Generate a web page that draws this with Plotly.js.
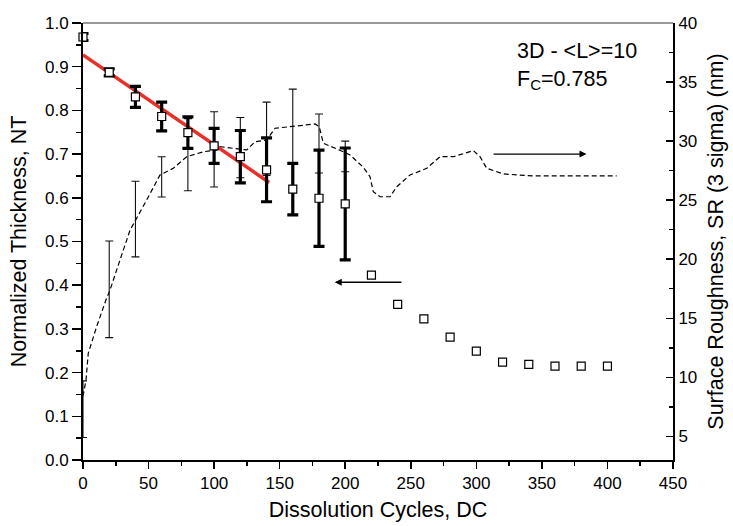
<!DOCTYPE html>
<html>
<head>
<meta charset="utf-8">
<script src="https://cdn.plot.ly/plotly-3.0.1.min.js"></script>
<style>html,body{margin:0;padding:0;background:#fff;}#chart{width:733px;height:526px;}</style>
</head>
<body>
<div id="chart"></div>
<script>
// Normalized thickness (left axis)
var ntX = [0, 20, 40, 60, 80, 100, 120, 140, 160, 180, 200];
var ntY = [0.968, 0.887, 0.831, 0.786, 0.749, 0.719, 0.694, 0.664, 0.620, 0.599, 0.586];
var ntErr = [0.008, 0.008, 0.024, 0.033, 0.036, 0.040, 0.060, 0.073, 0.059, 0.110, 0.128];
var ntTailX = [220, 240, 260, 280, 300, 320, 340, 360, 380, 400];
var ntTailY = [0.423, 0.356, 0.323, 0.281, 0.249, 0.224, 0.219, 0.215, 0.215, 0.215];
// linear fit (red)
var fitX = [0, 142];
var fitY = [0.927, 0.635];
// Surface roughness (right axis) error bars
var srBarX = [0, 20, 40, 60, 80, 100, 120, 140, 160, 180, 200];
var srBarY = [7.3, 17.45, 23.4, 26.97, 28.85, 29.3, 29.45, 30.2, 31.25, 29.8, 28.7];
var srBarErr = [2.4, 4.09, 3.2, 1.7, 3.05, 3.18, 2.55, 3.1, 3.15, 2.5, 1.3];
// Surface roughness curve (dashed)
var srCurveX = [0, 2.3, 4.0, 10.4, 17.5, 20.6, 28.2, 35.9, 48.6, 58.7, 68.9, 79.1, 91.8, 102, 104.5, 124.9, 131.2, 140.1, 146.5, 160.4, 177, 180.2, 183.3, 198.6, 203.7, 213.8, 218.9, 221.4, 226.5, 234.2, 239.3, 249.4, 262.2, 272.3, 282.5, 297.7, 302.8, 307.9, 320.6, 343.5, 407];
var srCurveY = [8.4, 9.77, 12.03, 14.29, 16.55, 17.39, 19.93, 22.47, 25.02, 27.13, 27.70, 28.68, 29.10, 29.25, 29.53, 29.25, 29.95, 30.10, 31.09, 31.28, 31.45, 31.22, 29.82, 29.10, 28.83, 27.78, 26.99, 25.72, 25.29, 25.29, 26.14, 27.13, 27.70, 28.68, 28.68, 29.19, 28.68, 27.70, 27.22, 27.05, 27.05];

var FONT = 'Arial, "Liberation Sans", sans-serif';

var traces = [
  {x: srCurveX, y: srCurveY, yaxis: 'y', mode: 'lines',
   line: {color: 'black', width: 1.2, dash: '5px,3px'}, hoverinfo: 'skip'},
  {x: srBarX, y: srBarY, yaxis: 'y', mode: 'markers',
   marker: {size: 1, color: 'rgba(0,0,0,0)'},
   error_y: {type: 'data', array: srBarErr, visible: true, color: '#111', thickness: 1.1, width: 4}},
  {x: fitX, y: fitY, yaxis: 'y2', mode: 'lines',
   line: {color: '#e8302a', width: 3.5}},
  {x: ntX, y: ntY, yaxis: 'y2', mode: 'markers', cliponaxis: false,
   marker: {symbol: 'square', size: 8, color: 'white', line: {color: 'black', width: 1.2}},
   error_y: {type: 'data', array: ntErr, visible: true, color: 'black', thickness: 3.2, width: 5.5}},
  {x: ntTailX, y: ntTailY, yaxis: 'y2', mode: 'markers',
   marker: {symbol: 'square', size: 8, color: 'white', line: {color: 'black', width: 1.2}}}
];

var layout = {
  width: 733, height: 526,
  margin: {l: 83, r: 60, t: 23, b: 66},
  paper_bgcolor: 'white', plot_bgcolor: 'white',
  showlegend: false,
  font: {family: FONT, color: 'black'},
  xaxis: {
    range: [0, 450], tick0: 0, dtick: 50, ticks: 'outside', ticklen: 7, tickwidth: 1.5,
    tickcolor: 'black', showline: true, linecolor: 'black', linewidth: 2,
    showgrid: false, zeroline: false, tickfont: {family: FONT, size: 17},
    minor: {tick0: 0, dtick: 25, ticks: 'outside', ticklen: 4, tickwidth: 1.5, tickcolor: 'black'},
    title: {text: 'Dissolution Cycles, DC', font: {family: FONT, size: 21.5}, standoff: 10}
  },
  yaxis: {
    side: 'right', range: [3, 40], tick0: 5, dtick: 5, ticks: 'inside', ticklen: 7, tickwidth: 1.5,
    tickcolor: 'black', showline: true, linecolor: 'black', linewidth: 2,
    showgrid: false, zeroline: false, tickfont: {family: FONT, size: 17},
    minor: {tick0: 5, dtick: 2.5, ticks: 'inside', ticklen: 4, tickwidth: 1.5, tickcolor: 'black'},
    title: {text: 'Surface Roughness, SR (3 sigma) (nm)', font: {family: FONT, size: 21.5}, standoff: 12}
  },
  yaxis2: {
    overlaying: 'y', side: 'left', range: [0, 1], tick0: 0, dtick: 0.1, tickformat: '.1f',
    ticks: 'outside', ticklen: 9, tickwidth: 1.5, tickcolor: 'black',
    showline: true, linecolor: 'black', linewidth: 2,
    showgrid: false, zeroline: false, tickfont: {family: FONT, size: 17},
    minor: {tick0: 0, dtick: 0.05, ticks: 'outside', ticklen: 5, tickwidth: 1.5, tickcolor: 'black'},
    title: {text: 'Normalized Thickness, NT', font: {family: FONT, size: 21.5}, standoff: 12}
  },
  shapes: [
    {type: 'line', xref: 'paper', yref: 'paper', x0: 0, x1: 1, y0: 1, y1: 1,
     line: {color: '#777', width: 1.5}}
  ],
  annotations: [
    {xref: 'paper', yref: 'paper', x: 0.733, y: 0.968, xanchor: 'left', yanchor: 'top',
     align: 'left', showarrow: false, font: {family: FONT, size: 21.5, color: 'black'},
     text: '3D - &lt;L&gt;=10<br>F<sub>C</sub>=0.785'},
    {xref: 'x', yref: 'y2', axref: 'x', ayref: 'y2', x: 384, y: 0.700, ax: 312, ay: 0.700,
     showarrow: true, arrowhead: 2, arrowsize: 1, arrowwidth: 1.4, arrowcolor: 'black', text: ''},
    {xref: 'x', yref: 'y2', axref: 'x', ayref: 'y2', x: 192, y: 0.4066, ax: 244, ay: 0.4066,
     showarrow: true, arrowhead: 2, arrowsize: 1, arrowwidth: 1.4, arrowcolor: 'black', text: ''}
  ]
};

Plotly.newPlot('chart', traces, layout, {staticPlot: true, displayModeBar: false});
</script>
</body>
</html>
